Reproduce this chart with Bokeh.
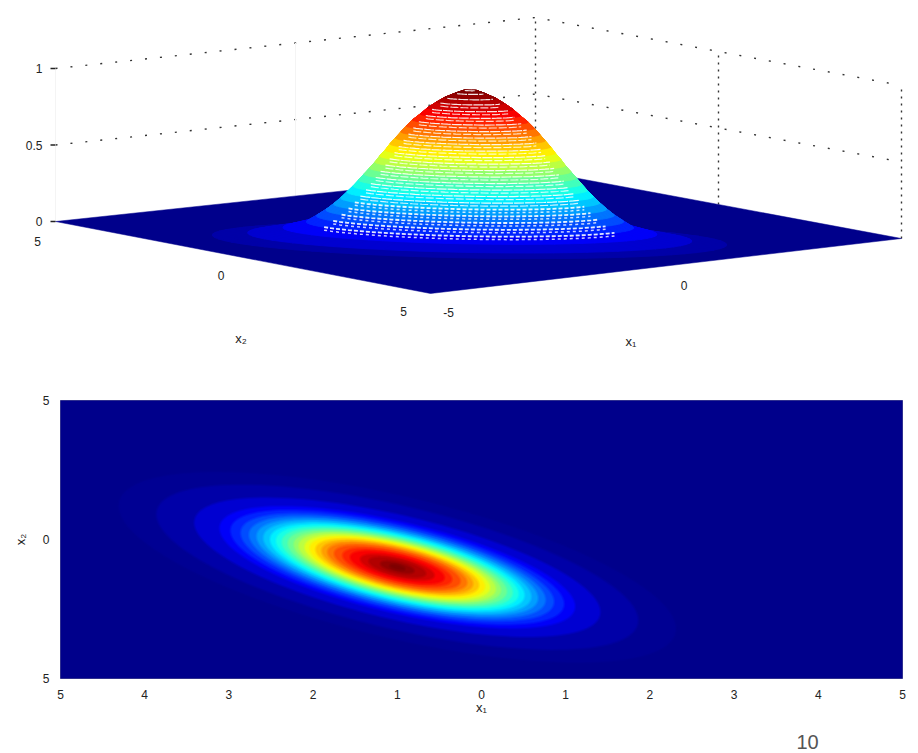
import numpy as np
from bokeh.embed import file_html
from bokeh.resources import INLINE
from bokeh.layouts import column
from bokeh.models import Range1d
from bokeh.plotting import figure
from bokeh.core.properties import value

levels = [0.02, 0.04, 0.08, 0.12, 0.16, 0.20, 0.24, 0.28, 0.32, 0.36, 0.40, 0.44, 0.48,
          0.52, 0.56, 0.60, 0.64, 0.68, 0.72, 0.76, 0.80, 0.84, 0.88, 0.92, 0.95, 0.98, 1.00]
half_x1 = [3.30, 2.85, 2.40, 2.10, 1.97, 1.85, 1.75, 1.66, 1.58, 1.50, 1.43, 1.36, 1.29,
           1.22, 1.16, 1.09, 1.03, 0.96, 0.89, 0.82, 0.74, 0.64, 0.55, 0.43, 0.33, 0.19, 0.08]
centre = (-1.0, -1.0)
extent_ratio = 1.03   # x2 half-extent / x1 half-extent of the contours
tilt = -0.65          # correlation

x_ticks = [-5, -4, -3, -2, -1, 0, 1, 2, 3, 4, 5]
x_tick_labels = ["5", "4", "3", "2", "1", "0", "1", "2", "3", "4", "5"]
y_ticks = [-5, 0, 5]
y_tick_labels = ["5", "0", "5"]
z_ticks = [0, 0.5, 1]
z_tick_labels = ["0", "0.5", "1"]
page_number = "10"

# Floor corners of the 3-D view as they appear on the page
floor_F, floor_R, floor_L, floor_B = (430, 293), (901, 238), (55, 221), (535, 170)
z_scale = 153

FONT = value("Liberation Sans")
INK = "#222222"
FLOOR = "#00008B"


def jet(v):
    r = np.clip(1.5 - abs(4 * v - 3), 0, 1)
    g = np.clip(1.5 - abs(4 * v - 2), 0, 1)
    b = np.clip(1.5 - abs(4 * v - 1), 0, 1)
    return "#%02x%02x%02x" % (int(r * 255), int(g * 255), int(b * 255))


def contour(h, n=73):
    t = np.linspace(0, 2 * np.pi, n)
    hy = h * extent_ratio
    x = centre[0] + h * np.cos(t)
    y = centre[1] + hy * (tilt * np.cos(t) + np.sqrt(1 - tilt ** 2) * np.sin(t))
    return x, y


def project(x1, x2, z=0.0):
    a = (np.asarray(x1, float) + 5) / 10
    b = (np.asarray(x2, float) + 5) / 10
    sx = floor_F[0]*(1-a)*(1-b) + floor_R[0]*a*(1-b) + floor_L[0]*(1-a)*b + floor_B[0]*a*b
    sy = floor_F[1]*(1-a)*(1-b) + floor_R[1]*a*(1-b) + floor_L[1]*(1-a)*b + floor_B[1]*a*b
    return sx, sy - z_scale * np.asarray(z, float)


# ---------- top panel: surface ----------
top = figure(width=918, height=376, output_backend="svg", toolbar_location=None,
             x_range=Range1d(0, 918), y_range=Range1d(376, 0),
             x_axis_type=None, y_axis_type=None, min_border=0)
top.frame_align = False
top.grid.visible = False
top.outline_line_color = None
top.background_fill_color = "white"

# box lines
corner_L, corner_B, corner_R = (-5, 5), (5, 5), (5, -5)
for z in [0.5, 1.0]:
    sx, sy = project([corner_L[0], corner_B[0], corner_R[0]], [corner_L[1], corner_B[1], corner_R[1]], [z, z, z])
    top.line(sx, sy, line_color="#333333", line_width=1.4, line_dash="2 13")
for c in [corner_B, (5, 0), corner_R]:
    sx, sy = project([c[0], c[0]], [c[1], c[1]], [0, 1])
    top.line(sx, sy, line_color="#333333", line_width=1.4, line_dash="2 5")
for c in [(0, 5), corner_L]:
    sx, sy = project([c[0], c[0]], [c[1], c[1]], [0, 1])
    top.line(sx, sy, line_color="#f4f4f4", line_width=1)

# floor
fx, fy = project([-5, 5, 5, -5], [-5, -5, 5, 5])
top.patch(fx, fy, fill_color=FLOOR, line_color=FLOOR, line_width=0.5)

# surface: the sides between neighbouring contours, lowest first
prev = None
rings = []
for lev, h in zip(levels, half_x1):
    x, y = contour(h)
    sx, sy = project(x, y, lev)
    colour = jet(lev)
    if prev is not None:
        px, py = prev
        qx = [[px[k], px[k + 1], sx[k + 1], sx[k]] for k in range(len(sx) - 1)]
        qy = [[py[k], py[k + 1], sy[k + 1], sy[k]] for k in range(len(sx) - 1)]
        top.patches(qx, qy, fill_color=colour, line_color=colour, line_width=0.8)
    top.patch(sx, sy, fill_color=colour, line_color=colour, line_width=0.8)
    prev = (sx, sy)
    rings.append((lev, sx, sy))

# gaps of the mesh on the front of the surface
for lev, sx, sy in rings:
    if lev < 0.12:
        continue
    mid = (sx.min() + sx.max()) / 2
    half = (sx.max() - sx.min()) / 2
    idx = np.where((sy > sy.mean()) & (np.abs(sx - mid) < 0.9 * half))[0]
    if len(idx) < 3:
        continue
    order = idx[np.argsort(sx[idx])]
    low = lev < 0.30
    top.line(sx[order], sy[order], line_color="white", line_alpha=0.9,
             line_width=1.8 if low else 1.2, line_dash="4 2" if low else "10 1")
    if lev < 0.95:
        top.line(sx[order], sy[order] + 3, line_color="white", line_alpha=0.8,
                 line_width=1.5 if low else 1.2, line_dash="3 3" if low else "8 2")

# z ticks and labels
zx, zy = project([corner_L[0]] * 3, [corner_L[1]] * 3, z_ticks)
top.segment(zx - 5, zy, zx, zy, line_color=INK, line_width=1.3)
top.text(zx, zy, text=z_tick_labels, x_offset=-13, text_align="right", text_baseline="middle",
         text_font=FONT, text_font_size="12px", text_color=INK)

# floor tick labels
lab_x1 = [-5, -5, -5, -5, 0]
lab_x2 = [5, 0, -5, -5, -5]
lab_txt = ["5", "0", "5", "-5", "0"]
lab_dx = [-18, -22, -27, 18, 18]
lab_dy = [20, 18, 18, 19, 19]
lx, ly = project(lab_x1, lab_x2)
top.text(lx + np.array(lab_dx), ly + np.array(lab_dy), text=lab_txt, text_align="center",
         text_baseline="middle", text_font=FONT, text_font_size="12px", text_color=INK)
ax, ay = project([-5, 0], [0, -5])
top.text(ax + np.array([-2, -35]), ay + np.array([81, 75]), text=["x\u2082", "x\u2081"],
         text_align="center", text_baseline="middle", text_font=FONT, text_font_size="13px",
         text_color=INK)

# ---------- bottom panel: map ----------
bot = figure(width=918, height=347, output_backend="svg", toolbar_location=None,
             x_range=Range1d(-5, 5), y_range=Range1d(-5, 5),
             min_border_left=60, min_border_right=16, min_border_top=24, min_border_bottom=45)
bot.frame_align = False
bot.grid.visible = False
bot.outline_line_color = "#30308f"
bot.background_fill_color = FLOOR

for lev, h in zip(levels, half_x1):
    x, y = contour(h, 145)
    colour = jet(lev)
    bot.patch(x, y, fill_alpha=0, line_color=colour, line_width=4, line_alpha=0.35)
    bot.patch(x, y, fill_color=colour, line_color=colour, line_width=2, line_alpha=0.5)

bot.xaxis.ticker = x_ticks
bot.xaxis.major_label_overrides = dict(zip(x_ticks, x_tick_labels))
bot.yaxis.ticker = y_ticks
bot.yaxis.major_label_overrides = dict(zip(y_ticks, y_tick_labels))
for ax_ in (bot.xaxis[0], bot.yaxis[0]):
    ax_.axis_line_color = None
    ax_.major_tick_line_color = None
    ax_.minor_tick_line_color = None
    ax_.major_label_text_font = "Liberation Sans"
    ax_.major_label_text_font_size = "12px"
    ax_.major_label_text_color = INK
    ax_.axis_label_text_font = "Liberation Sans"
    ax_.axis_label_text_font_size = "13px"
    ax_.axis_label_text_font_style = "normal"
    ax_.axis_label_text_color = INK
bot.xaxis.axis_label = "x\u2081"
bot.yaxis.axis_label = "x\u2082"
bot.xaxis.major_label_standoff = 5
bot.xaxis.axis_label_standoff = -2
bot.yaxis.major_label_standoff = 5
bot.yaxis.axis_label_standoff = 12

# ---------- page number strip ----------
strip = figure(width=918, height=30, output_backend="svg", toolbar_location=None,
               x_range=Range1d(0, 918), y_range=Range1d(30, 0),
               x_axis_type=None, y_axis_type=None, min_border=0)
strip.frame_align = False
strip.grid.visible = False
strip.outline_line_color = None
strip.text([807], [18], text=[page_number], text_align="center", text_baseline="alphabetic",
           text_font=FONT, text_font_size="20px", text_color="#555555")

page = column(top, bot, strip, spacing=0)
open("out.html", "w").write(file_html(page, INLINE))
